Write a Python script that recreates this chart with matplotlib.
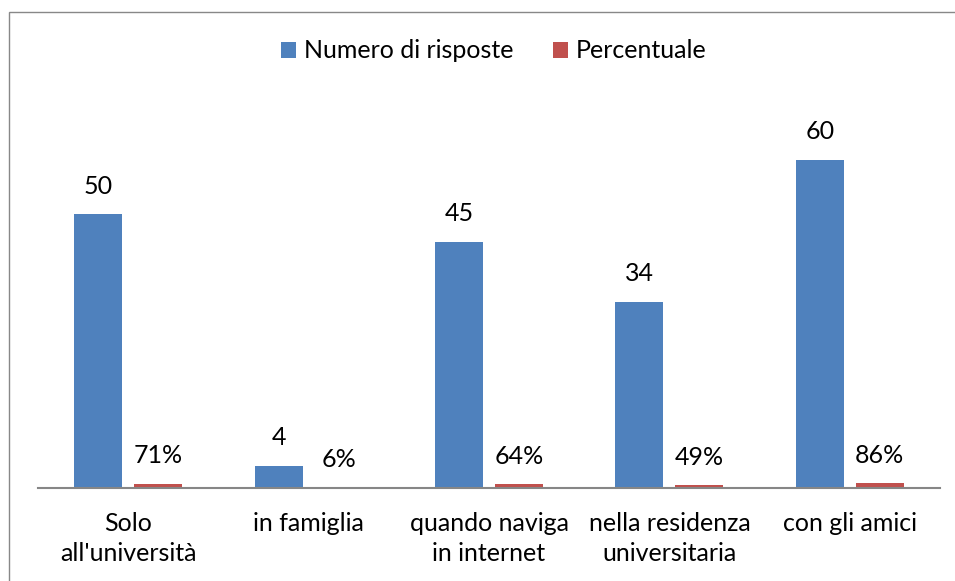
import matplotlib
matplotlib.use("Agg")
import matplotlib.pyplot as plt
import numpy as np
from matplotlib.patches import Rectangle

categories = ["Solo\nall'università", "in famiglia", "quando naviga\nin internet",
              "nella residenza\nuniversitaria", "con gli amici"]
risposte = [50, 4, 45, 34, 60]
percentuale = [0.71, 0.06, 0.64, 0.49, 0.86]
perc_labels = ["71%", "6%", "64%", "49%", "86%"]

plt.rcParams['font.family'] = ['Lato', 'DejaVu Sans']
FS = 18

fig = plt.figure(figsize=(9.55, 5.81), dpi=100)
fig.patches.append(Rectangle((9/955, -0.05), 1.0, 1.05 - 12/581, transform=fig.transFigure,
                             fill=False, edgecolor='#888888', linewidth=1.0))
ax = fig.add_axes([38/955, 1-488/581, 902/955, (488-105)/581])

x = np.arange(len(categories))
w = 48/180.4
off = 30/180.4
blue = '#4F81BD'
red = '#C0504D'
b1 = ax.bar(x - off, risposte, w, color=blue, label='Numero di risposte')
b2 = ax.bar(x + off, percentuale, w, color=red, label='Percentuale')

for xi, v in zip(x, risposte):
    ax.annotate(str(v), (xi - off, v), xytext=(0, 12), textcoords='offset points',
                ha='center', va='bottom', fontsize=FS)
for xi, v, l in zip(x, percentuale, perc_labels):
    ax.annotate(l, (xi + off, v), xytext=(0, 12), textcoords='offset points',
                ha='center', va='bottom', fontsize=FS)

ax.set_xlim(-0.5, len(categories) - 0.5)
ax.set_ylim(0, 70)
ax.set_yticks([])
ax.set_xticks(x)
ax.set_xticklabels(categories, fontsize=FS, linespacing=1.4)
ax.tick_params(axis='x', length=0, pad=17)
for s in ['top', 'right', 'left']:
    ax.spines[s].set_visible(False)
ax.spines['bottom'].set_color('#868686')
ax.spines['bottom'].set_linewidth(1.5)

leg = fig.legend(handles=[b1, b2], loc='center', bbox_to_anchor=(494/955, 1-51/581),
                 ncol=2, frameon=False, fontsize=FS, handlelength=0.6, handleheight=0.6,
                 handletextpad=0.3, columnspacing=1.6)

fig.savefig('out.png', dpi=100)
